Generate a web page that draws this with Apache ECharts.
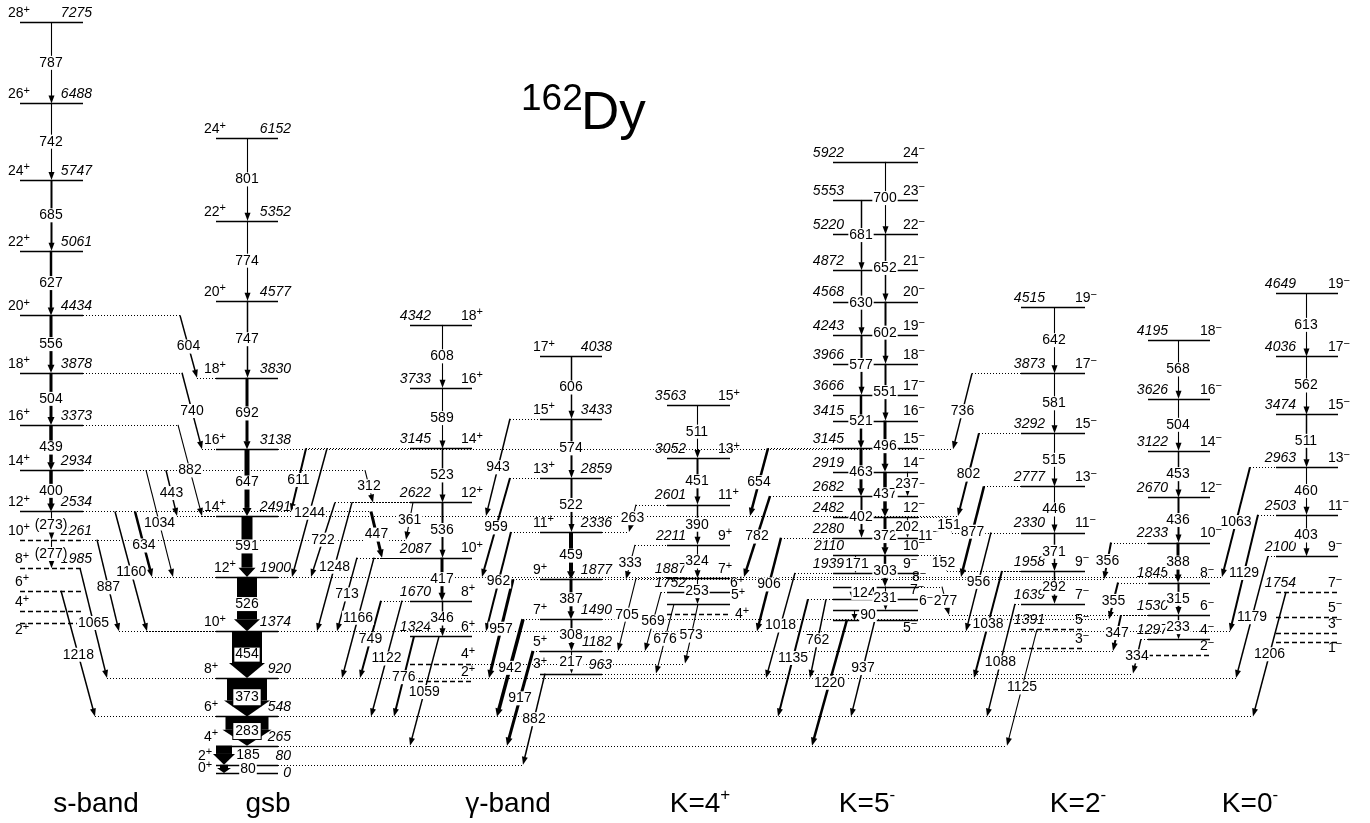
<!DOCTYPE html>
<html><head><meta charset="utf-8">
<script src="https://cdn.jsdelivr.net/npm/echarts@6/dist/echarts.min.js"></script>
<style>html,body{margin:0;padding:0;background:#fff}#c{width:1370px;height:823px}</style>
</head><body><div id="c"></div>
<script>
// ======================= DATA =======================
const nucleus = ['162', 'Dy'];
const bandNames = ['s-band', 'gsb', 'γ-band', 'K=4+', 'K=5-', 'K=2-', 'K=0-'];

// levels: [energy keV, spin, tentative(1), energy label shown(1)]
const levelsS = [[7275,'28+',0,1],[6488,'26+',0,1],[5747,'24+',0,1],[5061,'22+',0,1],[4434,'20+',0,1],[3878,'18+',0,1],[3373,'16+',0,1],[2934,'14+',0,1],[2534,'12+',0,1],[2261,'10+',1,1],[1985,'8+',1,1],[1766,'6+',1,0],[1570,'4+',1,0],[1453,'2+',1,0]];
const levelsGsb = [[6152,'24+',0,1],[5352,'22+',0,1],[4577,'20+',0,1],[3830,'18+',0,1],[3138,'16+',0,1],[2491,'14+',0,1],[1900,'12+',0,1],[1374,'10+',0,1],[920,'8+',0,1],[548,'6+',0,1],[265,'4+',0,1],[80,'2+',0,1],[0,'0+',0,1]];
const levelsGammaEven = [[4342,'18+',0,1],[3733,'16+',0,1],[3145,'14+',0,1],[2622,'12+',0,1],[2087,'10+',0,1],[1670,'8+',0,1],[1324,'6+',0,1],[1061,'4+',1,0],[888,'2+',1,0]];
const levelsGammaOdd = [[4038,'17+',0,1],[3433,'15+',0,1],[2859,'13+',0,1],[2336,'11+',0,1],[1877,'9+',0,1],[1490,'7+',0,1],[1182,'5+',0,1],[963,'3+',0,1]];
const levelsK4 = [[3563,'15+',0,1],[3052,'13+',0,1],[2601,'11+',0,1],[2211,'9+',0,1],[1887,'7+',0,1],[1752,'6+',0,1],[1637,'5+',0,0],[1536,'4+',1,0]];
const levelsK5 = [[5922,'24-',0,1],[5553,'23-',0,1],[5220,'22-',0,1],[4872,'21-',0,1],[4568,'20-',0,1],[4243,'19-',0,1],[3966,'18-',0,1],[3666,'17-',0,1],[3415,'16-',0,1],[3145,'15-',0,1],[2919,'14-',0,1],[2682,'13-',0,1],[2482,'12-',0,1],[2280,'11-',0,1],[2110,'10-',0,1],[1939,'9-',0,1],[1807,'8-',0,0],[1683,'7-',0,0],[1576,'6-',0,0],[1486,'5-',0,0]];
const levelsK2odd = [[4515,'19-',0,1],[3873,'17-',0,1],[3292,'15-',0,1],[2777,'13-',0,1],[2330,'11-',0,1],[1958,'9-',0,1],[1639,'7-',0,1],[1391,'5-',1,1],[1211,'3-',1,0]];
const levelsK2even = [[4195,'18-',0,1],[3626,'16-',0,1],[3122,'14-',0,1],[2670,'12-',0,1],[2233,'10-',0,1],[1845,'8-',0,1],[1530,'6-',0,1],[1297,'4-',0,1],[1143,'2-',1,0]];
const levelsK0 = [[4649,'19-',0,1],[4036,'17-',0,1],[3474,'15-',0,1],[2963,'13-',0,1],[2503,'11-',0,1],[2100,'9-',0,1],[1754,'7-',1,1],[1512,'5-',1,0],[1357,'3-',1,0],[1270,'1-',1,0]];

// in-band transitions: [arrow column, Ei, Ef, label, relative intensity]
const transS = [['S',7275,6488,'787',1],['S',6488,5747,'742',1],['S',5747,5061,'685',2],['S',5061,4434,'627',2.5],['S',4434,3878,'556',3],['S',3878,3373,'504',3],['S',3373,2934,'439',3.5],['S',2934,2534,'400',3.5],['S',2534,2261,'(273)',1],['S',2261,1985,'(277)',1]];
const transGsb = [['G',6152,5352,'801',1],['G',5352,4577,'774',1],['G',4577,3830,'747',1.5],['G',3830,3138,'692',3],['G',3138,2491,'647',5],['G',2491,1900,'591',11],['G',1900,1374,'526',20],['G',1374,920,'454',30],['G',920,548,'373',40],['G',548,265,'283',43],['G',265,80,'185',16],['G',80,0,'80',8]];
const transGammaEven = [['GE',4342,3733,'608',1],['GE',3733,3145,'589',1],['GE',3145,2622,'523',1.5],['GE',2622,2087,'536',2],['GE',2087,1670,'417',3],['GE',1670,1324,'346',1.5]];
const transGammaOdd = [['GO',4038,3433,'606',1.5],['GO',3433,2859,'574',2],['GO',2859,2336,'522',2],['GO',2336,1877,'459',4],['GO',1877,1490,'387',3],['GO',1490,1182,'308',2],['GO',1182,963,'217',1]];
const transK4 = [['K4',3563,3052,'511',1],['K4',3052,2601,'451',2],['K4',2601,2211,'390',1.5],['K4',2211,1887,'324',1],['K4',1887,1637,'253',1]];
const transK5 = [['K5o',5553,4872,'681',1.5],['K5o',4872,4243,'630',1.5],['K5o',4243,3666,'577',2],['K5o',3666,3145,'521',2.5],['K5o',3145,2682,'463',3],['K5o',2682,2280,'402',2],['K5o',2110,1939,'171',1],['K5o',1807,1683,'124',1],['K5o',1576,1486,'90',1],
  ['K5e',5922,5220,'700',1],['K5e',5220,4568,'652',1.5],['K5e',4568,3966,'602',2],['K5e',3966,3415,'551',2],['K5e',3415,2919,'496',3],['K5e',2919,2482,'437',3.5],['K5e',2482,2110,'372',3],['K5e',2110,1807,'303',2.5],['K5e',1807,1576,'231',1],
  ['K5m',2919,2682,'237',1],['K5m',2482,2280,'202',1]];
const transK2 = [['K2O',4515,3873,'642',1],['K2O',3873,3292,'581',1],['K2O',3292,2777,'515',1],['K2O',2777,2330,'446',1],['K2O',2330,1958,'371',1.5],['K2O',1958,1639,'292',1.5],
  ['K2E',4195,3626,'568',1],['K2E',3626,3122,'504',1],['K2E',3122,2670,'453',1.5],['K2E',2670,2233,'436',2],['K2E',2233,1845,'388',3],['K2E',1845,1530,'315',2],['K2E',1530,1297,'233',1.5]];
const transK0 = [['K0',4649,4036,'613',1],['K0',4036,3474,'562',1],['K0',3474,2963,'511',1.5],['K0',2963,2503,'460',1],['K0',2503,2100,'403',1]];

// inter-band transitions: [from column, Ei, to column, Ef, label, relative intensity]
const interS = [['S',4434,'G',3830,'604',1.5],['S',3878,'G',3138,'740',1.5],['S',3373,'G',2491,'882',1],['S',2934,'G',2491,'443',1.5],['S',2934,'G',1900,'1034',1],['S',2534,'G',1900,'634',2.5],['S',2534,'G',1374,'1160',1.5],['S',2261,'G',1374,'887',1.5],['S',1985,'G',920,'1065',1.5],['S',1766,'G',548,'1218',1.5]];
const interGammaEven = [['GE',3145,'S',2534,'611',2],['GE',3145,'G',1900,'1244',1.5],['GE',2622,'G',1900,'722',1.5],['GE',2622,'G',1374,'1248',1.5],['S',2934,'GE',2622,'312',1],['GE',2622,'S',2261,'361',1],['S',2534,'GE',2087,'447',3],['GE',2087,'G',1374,'713',1.5],['GE',2087,'G',920,'1166',1.5],['GE',1670,'G',920,'749',2],['GE',1670,'G',548,'1122',1.5],['GE',1324,'G',548,'776',2],['GE',1324,'G',265,'1059',1.5]];
const interGammaOdd = [['GO',3433,'G',2491,'943',1.5],['GO',2859,'G',1900,'959',2],['GO',2336,'G',1374,'962',2],['GO',1877,'G',920,'957',3],['GO',1490,'G',548,'942',3.5],['GO',1182,'G',265,'917',3],['GO',963,'G',80,'882',1.5]];
const interK4 = [['K4',2601,'GO',2336,'263',1],['K4',2211,'GO',1877,'333',1],['K4',1887,'GO',1182,'705',1],['K4',1752,'GO',1182,'569',1],['K4',1637,'GO',963,'676',1],['K4',1637,'GE',1061,'573',1]];
const interK5 = [['K5',3145,'G',2491,'654',2.5],['K5',2682,'G',1900,'782',2.5],['K5',2280,'G',1374,'906',2.5],['K5',1939,'G',920,'1018',1.5],['K5',1683,'G',548,'1135',2],['K5',1683,'G',920,'762',1.5],['K5',1486,'G',265,'1220',2.5],['K5',1486,'G',548,'937',1.5],['K5',1807,'K2E',1530,'277',1],['K5',2110,'K2O',1958,'152',1],['K5',2482,'K2O',2330,'151',1]];
const interK2 = [['K2O',3873,'G',3138,'736',1.5],['K2O',3292,'G',2491,'802',2],['K2O',2777,'G',1900,'877',2.5],['K2O',2330,'G',1374,'956',1.5],['K2O',1958,'G',920,'1038',2],['K2O',1639,'G',548,'1088',1.5],['K2O',1391,'G',265,'1125',1],['K2E',2233,'GO',1877,'356',2],['K2E',1845,'GO',1490,'355',2],['K2E',1530,'GO',1182,'347',2],['K2E',1297,'GO',963,'334',1.5]];
const interK0 = [['K0',2963,'G',1900,'1063',2],['K0',2503,'G',1374,'1129',2],['K0',2100,'G',920,'1179',1.5],['K0',1754,'G',548,'1206',1.5]];

// ======================= LAYOUT (px-like x units, separate from data) =======================
const FONT = '"Liberation Sans", Arial, Helvetica, sans-serif';
const COLS = {
  S:  {x1:20,  x2:83,  sx:8,    sa:'left', ex:92,   ea:'right'},
  G:  {x1:216, x2:278, sx:204,  sa:'left', ex:291,  ea:'right'},
  GE: {x1:410, x2:472, sx:461,  sa:'left', ex:431,  ea:'right'},
  GO: {x1:540, x2:602, sx:533,  sa:'left', ex:612,  ea:'right'},
  K4: {x1:667, x2:730, sx:718,  sa:'left', ex:686,  ea:'right'},
  K5: {x1:833, x2:918, sx:903,  sa:'left', ex:844,  ea:'right'},
  K2O:{x1:1021,x2:1085,sx:1075, sa:'left', ex:1045, ea:'right'},
  K2E:{x1:1148,x2:1210,sx:1200, sa:'left', ex:1168, ea:'right'},
  K0: {x1:1276,x2:1338,sx:1328, sa:'left', ex:1296, ea:'right'}
};
const ARROW_X = {S:51, G:247, GE:442, GO:571, K4:697, K5o:861, K5e:885, K5m:907, K2O:1054, K2E:1178, K0:1306};
const intraShift = {'G:185':{x:224, lx:248}, 'G:80':{x:224, lx:248}, 'K5o:171':{x:855, lx:857}, 'K5o:124':{x:852, lx:864}, 'K5o:90':{x:854, lx:868}};
const levelShift = {'S:1985':{sdx:7},'S:1766':{sdx:7},'S:1570':{sdx:7},'S:1453':{sdx:7,sdy:16},
  'G:1900':{sdx:10},'G:80':{sdx:-6},'G:0':{sdx:-6,sdy:4,edy:9},
  'K4:1752':{sdx:12},'K4:1637':{sdx:13},'K4:1536':{sdx:17,sdy:9},
  'K5:1807':{sdx:9},'K5:1683':{sdx:7},'K5:1576':{sdx:16},'K5:1486':{sdy:17},'K5:2280':{sdx:15,sdy:7},
  'K0:1270':{sdy:15}};
// [x start, x end, label position along arrow]
const layS = [[180,197,.5],[182,202,.5],[178,202,.5],[166,177,.5],[146,173,.5],[135,152,.52],[115,147,.51],[97,119,.52],[80,107,.5],[61,95,.51]];
const layGammaEven = [[306,291,.5],[327,292,.5],[335,311,.5],[352,317,.5],[365,373,.5],[413,406,.47],[371,382,.5],[357,337,.5],[374,342,.5],[381,360,.5],[402,371,.5],[414,394,.51],[439,410,.51]];
const layGammaOdd = [[510,486,.5],[510,482,.5],[511,486,.5],[513,489,.5],[523,497,.5],[533,507,.5],[545,523,.5]];
const layK4 = [[636,629,.5],[635,626,.53],[636,618,.5],[661,645,.5],[674,656,.5],[698,685,.53]];
const layK5 = [[768,750,.5],[770,744,.5],[781,757,.5],[795,766,.5],[808,778,.5],[826,810,.52],[847,812,.5],[875,851,.5],[942,949,.5],[940,947,.5],[946,952,.5]];
const layK2 = [[972,953,.5],[979,958,.5],[984,961,.5],[991,966,.5],[1002,974,.5],[1015,987,.52],[1037,1007,.5],[1111,1104,.5],[1118,1109,.5],[1121,1113,.5],[1141,1133,.5]];
const layK0 = [[1250,1222,.5],[1258,1230,.5],[1268,1236,.5],[1286,1253,.5]];
const bandLabelX = [96, 268, 508, 700, 867, 1078, 1250];

// ======================= BUILD =======================
const levelSets = {S:levelsS, G:levelsGsb, GE:levelsGammaEven, GO:levelsGammaOdd, K4:levelsK4, K5:levelsK5, K2O:levelsK2odd, K2E:levelsK2even, K0:levelsK0};
const intra = [].concat(transS, transGsb, transGammaEven, transGammaOdd, transK4, transK5, transK2, transK0);
const inter = [].concat(interS, interGammaEven, interGammaOdd, interK4, interK5, interK2, interK0);
const interLay = [].concat(layS, layGammaEven, layGammaOdd, layK4, layK5, layK2, layK0);

function supRich(s, b, p, minus) {
  const m = s.match(/^(.*?)([+\-])$/);
  if (!m) return '{' + b + '|' + s + '}';
  return '{' + b + '|' + m[1] + '}{' + p + '|' + (m[2] === '-' ? minus : '+') + '}';
}

const levelLines = [];   // [x1, E, x2, E, tentative]
const labels = [];
Object.keys(levelSets).forEach(function (c) {
  const L = COLS[c];
  levelSets[c].forEach(function (lv) {
    const E = lv[0], o = levelShift[c + ':' + E] || {};
    levelLines.push([L.x1, E, L.x2, E, lv[2]]);
    labels.push({x: L.sx, e: E, dx: o.sdx || 0, dy: o.sdy || 0, text: supRich(lv[1], 'n', 's', '−'), align: L.sa, kind: 'spin'});
    if (lv[3]) labels.push({x: L.ex, e: E, dx: o.edx || 0, dy: (o.edy || 0) - 2, text: String(E), align: L.ea, kind: 'energy'});
  });
});

const arrows = [];  // [x1, Ei, x2, Ef, intensity]
const tLabels = [];
intra.forEach(function (t) {
  const o = intraShift[t[0] + ':' + t[3]] || {};
  const x = o.x != null ? o.x : ARROW_X[t[0]];
  arrows.push([x, t[1], x, t[2], t[4]]);
  tLabels.push({x: o.lx != null ? o.lx : x, e: (t[1] + t[2]) / 2, text: t[3], boxed: t[4] >= 40});
});
const dotted = [];
function addDot(col, E, x) {
  const L = COLS[col];
  if (x < L.x1) dotted.push([x, E, L.x1, E]);
  else if (x > L.x2) dotted.push([L.x2, E, x, E]);
}
inter.forEach(function (t, i) {
  const l = interLay[i];
  arrows.push([l[0], t[1], l[1], t[3], t[5]]);
  addDot(t[0], t[1], l[0]);
  addDot(t[2], t[3], l[1]);
  tLabels.push({x: l[0] + (l[1] - l[0]) * l[2], e: t[1] + (t[3] - t[1]) * l[2], text: t[4], boxed: false});
});

// ======================= CHART =======================
const chart = echarts.init(document.getElementById('c'), null, {renderer: 'canvas'});
function lineItem(api, dash, width) {
  const p1 = api.coord([api.value(0), api.value(1)]);
  const p2 = api.coord([api.value(2), api.value(3)]);
  const y = Math.round(p1[1]) + 0.5;
  return {type: 'line', shape: {x1: p1[0], y1: y, x2: p2[0], y2: y}, style: {stroke: '#000', lineWidth: width, lineDash: dash}};
}
const richSpin = {
  n: {fontSize: 14, fontFamily: FONT, lineHeight: 18, fill: '#000'},
  s: {fontSize: 11, fontFamily: FONT, lineHeight: 11, verticalAlign: 'top', fill: '#000'}
};
chart.setOption({
  animation: false,
  backgroundColor: '#fff',
  grid: {left: 0, right: 0, top: 0, bottom: 0},
  xAxis: {type: 'value', min: 0, max: 1370, show: false},
  yAxis: {type: 'value', min: -484.5, max: 7490.5, show: false},
  graphic: [
    {type: 'text', x: 521, y: 100, style: {text: nucleus[0], fontSize: 37, fontFamily: FONT, fill: '#000', verticalAlign: 'middle'}},
    {type: 'text', x: 581, y: 114, style: {text: nucleus[1], fontSize: 53, fontFamily: FONT, fill: '#000', verticalAlign: 'middle'}}
  ].concat(bandNames.map(function (b, i) {
    return {type: 'text', x: bandLabelX[i], y: 804, style: {text: supRich(b, 'b', 'p', '-'), align: 'center', verticalAlign: 'middle',
      rich: {b: {fontSize: 28, fontFamily: FONT, lineHeight: 34, fill: '#000'}, p: {fontSize: 17, fontFamily: FONT, lineHeight: 17, verticalAlign: 'top', fill: '#000'}}}};
  })),
  series: [
    {type: 'custom', silent: true, z: 1, data: dotted, renderItem: function (p, api) { return lineItem(api, [1, 2], 1); }},
    {type: 'custom', silent: true, z: 2, data: levelLines, renderItem: function (p, api) { return lineItem(api, api.value(4) ? [5, 3] : null, 1.5); }},
    {type: 'custom', silent: true, z: 3, data: arrows, renderItem: function (p, api) {
      const a = api.coord([api.value(0), api.value(1)]);
      const b = api.coord([api.value(2), api.value(3)]);
      const w = api.value(4);
      if (a[0] === b[0] && w <= 2) { a[0] = b[0] = Math.floor(a[0]) + 0.5; }
      const dx = b[0] - a[0], dy = b[1] - a[1], L = Math.hypot(dx, dy) || 1;
      const ux = dx / L, uy = dy / L, nx = -uy, ny = ux;
      const hl = Math.min(L * 0.6, w >= 8 ? Math.min(16, 6 + w * 0.3) : 8);
      const hw = w >= 8 ? w + 6 : Math.max(6, w + 4);
      const bx = b[0] - ux * hl, by = b[1] - uy * hl;
      const head = {type: 'polygon', shape: {points: [[bx + nx * hw / 2, by + ny * hw / 2], [b[0], b[1]], [bx - nx * hw / 2, by - ny * hw / 2]]}, style: {fill: '#000'}};
      let body;
      if (w <= 4) {
        body = {type: 'line', shape: {x1: a[0], y1: a[1], x2: bx + ux * 0.5, y2: by + uy * 0.5}, style: {stroke: '#000', lineWidth: Math.max(w, 1.1)}};
      } else {
        body = {type: 'polygon', shape: {points: [[a[0] + nx * w / 2, a[1] + ny * w / 2], [bx + nx * w / 2, by + ny * w / 2], [bx - nx * w / 2, by - ny * w / 2], [a[0] - nx * w / 2, a[1] - ny * w / 2]]}, style: {fill: '#000'}};
      }
      return {type: 'group', children: [body, head]};
    }},
    {type: 'custom', silent: true, z: 4, data: labels.map(function (l) { return [l.x, l.e]; }), renderItem: function (p, api) {
      const l = labels[p.dataIndex];
      const pt = api.coord([api.value(0), api.value(1)]);
      const st = l.kind === 'spin'
        ? {text: l.text, rich: richSpin, align: l.align, verticalAlign: 'bottom'}
        : {text: l.text, fontSize: 14, fontStyle: 'italic', fontFamily: FONT, fill: '#000', align: l.align, verticalAlign: 'bottom'};
      return {type: 'text', x: pt[0] + l.dx, y: pt[1] + l.dy, style: st};
    }},
    {type: 'custom', silent: true, z: 5, data: tLabels.map(function (l) { return [l.x, l.e]; }), renderItem: function (p, api) {
      const l = tLabels[p.dataIndex];
      const pt = api.coord([api.value(0), api.value(1)]);
      return {type: 'text', x: pt[0], y: pt[1], style: {text: l.text, fontSize: 14, fontFamily: FONT, fill: '#000', align: 'center', verticalAlign: 'middle',
        lineHeight: 14, backgroundColor: '#fff', padding: l.boxed ? [1, 2, 1, 2] : [0, 1, 0, 1], borderColor: l.boxed ? '#000' : null, borderWidth: l.boxed ? 1 : 0}};
    }}
  ]
});
</script></body></html>
